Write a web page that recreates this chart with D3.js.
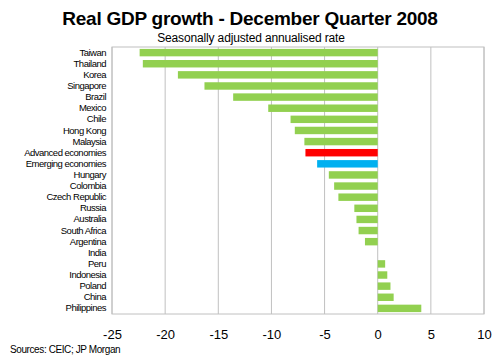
<!DOCTYPE html>
<html><head><meta charset="utf-8">
<script src="https://cdn.jsdelivr.net/npm/d3@7/dist/d3.min.js"></script>
<style>body{margin:0;background:#fff;}svg{display:block;font-family:"Liberation Sans",Arial,sans-serif;}</style>
</head><body>
<script>
const categories = ["Taiwan","Thailand","Korea","Singapore","Brazil","Mexico","Chile","Hong Kong","Malaysia","Advanced economies","Emerging economies","Hungary","Colombia","Czech Republic","Russia","Australia","South Africa","Argentina","India","Peru","Indonesia","Poland","China","Philippines"];
const values = [-22.4,-22.1,-18.8,-16.3,-13.6,-10.3,-8.2,-7.8,-6.9,-6.8,-5.7,-4.6,-4.1,-3.7,-2.2,-2.0,-1.8,-1.2,0,0.7,0.9,1.2,1.5,4.1];
const colors = categories.map(c => c==="Advanced economies" ? "#ff0000" : c==="Emerging economies" ? "#00b0f0" : "#92d050");
const xTicks = [-25,-20,-15,-10,-5,0,5,10];

const W=500,H=364;
const svg=d3.select("body").append("svg").attr("width",W).attr("height",H);
const x=d3.scaleLinear().domain([-25,10]).range([112,484]);
const y=d3.scaleBand().domain(categories).range([47,314]).paddingInner(0.33).paddingOuter(0.17);

svg.append("text").attr("x",250).attr("y",25).attr("text-anchor","middle").attr("font-weight","bold").attr("font-size",19).attr("letter-spacing","-0.25").text("Real GDP growth - December Quarter 2008");
svg.append("text").attr("x",251).attr("y",42).attr("text-anchor","middle").attr("font-size",12).attr("letter-spacing","-0.15").text("Seasonally adjusted annualised rate");

const g=svg.append("g");
g.selectAll("line.grid").data(xTicks).join("line").attr("class","grid")
 .attr("x1",d=>x(d)).attr("x2",d=>x(d)).attr("y1",47).attr("y2",314)
 .attr("stroke","#c0c0c0").attr("stroke-width",1);
g.append("rect").attr("x",112).attr("y",47).attr("width",372).attr("height",267).attr("fill","none").attr("stroke","#c0c0c0");

g.selectAll("rect.bar").data(categories).join("rect").attr("class","bar")
 .attr("x",(d,i)=>x(Math.min(0,values[i])))
 .attr("width",(d,i)=>Math.abs(x(values[i])-x(0)))
 .attr("y",d=>y(d)).attr("height",y.bandwidth())
 .attr("fill",(d,i)=>colors[i]);

const xAxis=d3.axisBottom(x).tickValues(xTicks).tickFormat(d=>String(d)).tickSize(0).tickPadding(0);
const ax=svg.append("g").attr("transform","translate(0,330)").call(xAxis);
ax.select(".domain").remove();
ax.selectAll("text").attr("font-size",13).attr("fill","#000").attr("font-family","Liberation Sans, Arial, sans-serif").attr("dy","0.71em");

const yAxis=d3.axisLeft(y).tickSize(0).tickPadding(6);
const ay=svg.append("g").attr("transform","translate(112,0)").call(yAxis);
ay.select(".domain").remove();
ay.selectAll("text").attr("font-size",9.5).attr("fill","#000").attr("letter-spacing","-0.5").attr("font-family","Liberation Sans, Arial, sans-serif");

svg.append("text").attr("x",10).attr("y",353).attr("font-size",10).attr("letter-spacing","-0.4").text("Sources: CEIC; JP Morgan");
</script>
</body></html>
